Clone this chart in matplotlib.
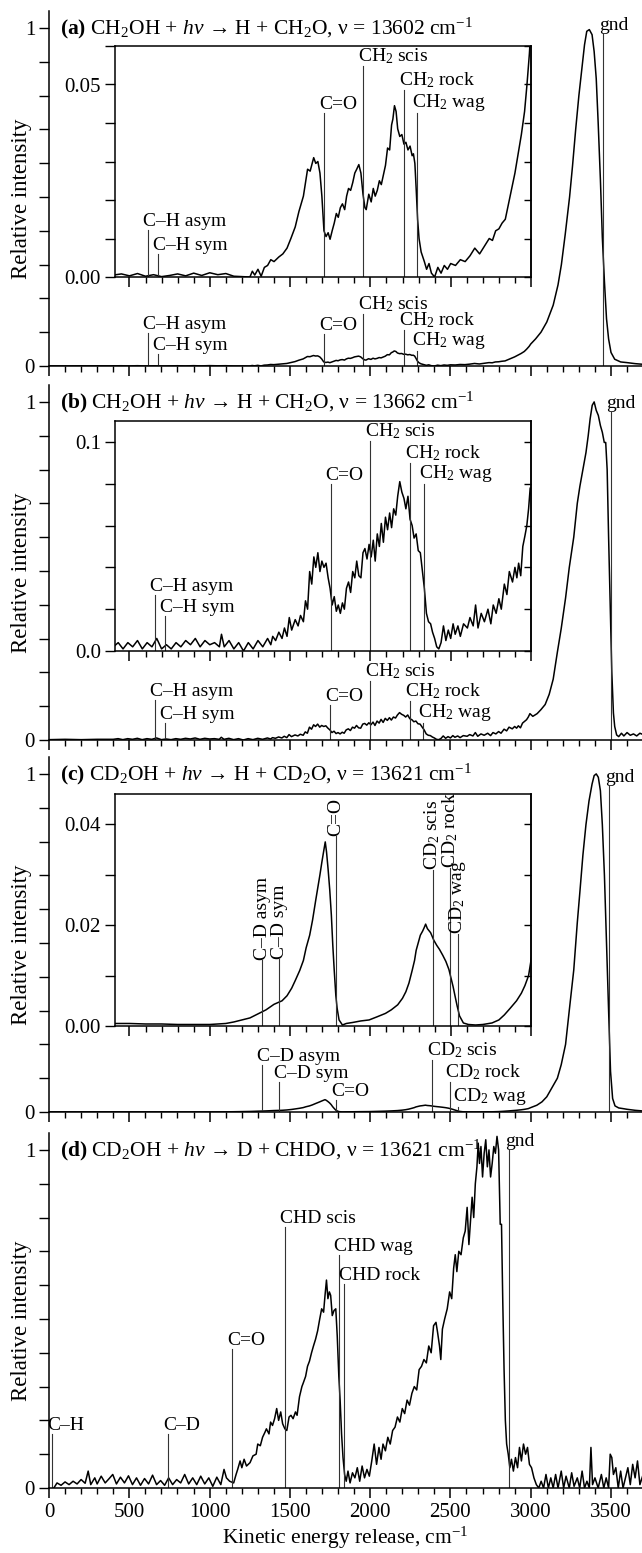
import matplotlib
matplotlib.use('Agg')
import matplotlib.pyplot as plt
from matplotlib.ticker import MultipleLocator, FixedLocator, NullFormatter

plt.rcParams['font.family'] = ['Liberation Serif', 'DejaVu Serif']
plt.rcParams['mathtext.fontset'] = 'custom'
plt.rcParams['mathtext.rm'] = 'Liberation Serif'
plt.rcParams['mathtext.it'] = 'Liberation Serif:italic'
plt.rcParams['mathtext.bf'] = 'Liberation Serif:bold'
plt.rcParams['font.size'] = 15
plt.rcParams['axes.linewidth'] = 1.1

# ---- spectra (kinetic energy release in cm-1, relative intensity) ----
ke_a = [0, 100, 200, 300, 400, 450, 500, 550, 600, 650, 700, 750, 800, 850, 900, 950,
        1000, 1050, 1100, 1150, 1200, 1250, 1265, 1280, 1300, 1320, 1340, 1360, 1380,
        1400, 1430, 1455, 1481, 1505, 1532, 1555, 1583, 1600, 1609, 1625, 1647, 1660,
        1673, 1686, 1698, 1711, 1724, 1737, 1749, 1762, 1775, 1788, 1800, 1813, 1826,
        1840, 1852, 1864, 1877, 1890, 1903, 1915, 1928, 1941, 1954, 1966, 1974, 1990,
        2005, 2018, 2030, 2043, 2056, 2068, 2081, 2094, 2107, 2120, 2132, 2140, 2150,
        2160, 2170, 2183, 2196, 2209, 2221, 2234, 2247, 2260, 2268, 2277, 2285, 2294,
        2303, 2316, 2336, 2350, 2365, 2380, 2400, 2420, 2440, 2460, 2480, 2500, 2530,
        2560, 2590, 2620, 2650, 2680, 2710, 2740, 2760, 2780, 2800, 2820, 2840, 2860,
        2880, 2900, 2920, 2940, 2960, 2975, 2990, 3000, 3030, 3064, 3100, 3140, 3170,
        3191, 3215, 3242, 3260, 3280, 3300, 3319, 3335, 3349, 3365, 3382, 3395, 3408,
        3420, 3434, 3446, 3459, 3472, 3485, 3500, 3523, 3560, 3600, 3650, 3700]
int_a = [0.0005, 0.0003, 0.0006, 0.0004, 0.0005, 0.0008, 0.0003, 0.0009, 0.0002, 0.0006,
         0.0001, 0.0004, 0.0008, 0.0003, 0.0010, 0.0004, 0.0011, 0.0006, 0.0009, 0.0002,
         0.0001, 0.0000, 0.0015, 0.0005, 0.0020, 0.0002, 0.0025, 0.0030, 0.0045, 0.0040,
         0.0052, 0.0060, 0.0075, 0.0100, 0.0130, 0.0170, 0.0210, 0.0255, 0.0280, 0.0275,
         0.0310, 0.0295, 0.0300, 0.0270, 0.0210, 0.0120, 0.0105, 0.0115, 0.0098, 0.0120,
         0.0140, 0.0165, 0.0155, 0.0180, 0.0190, 0.0175, 0.0210, 0.0230, 0.0225, 0.0245,
         0.0270, 0.0280, 0.0292, 0.0270, 0.0215, 0.0180, 0.0175, 0.0215, 0.0195, 0.0230,
         0.0210, 0.0225, 0.0250, 0.0240, 0.0265, 0.0290, 0.0335, 0.0330, 0.0395, 0.0410,
         0.0445, 0.0430, 0.0385, 0.0365, 0.0370, 0.0345, 0.0350, 0.0330, 0.0340, 0.0315,
         0.0320, 0.0295, 0.0230, 0.0150, 0.0100, 0.0065, 0.0040, 0.0020, 0.0035, 0.0010,
         0.0000, 0.0025, 0.0010, 0.0030, 0.0020, 0.0035, 0.0030, 0.0045, 0.0040, 0.0055,
         0.0075, 0.0060, 0.0080, 0.0100, 0.0095, 0.0120, 0.0125, 0.0140, 0.0150, 0.0190,
         0.0230, 0.0270, 0.0320, 0.0370, 0.0430, 0.0500, 0.0580, 0.0650, 0.080, 0.100,
         0.130, 0.180, 0.240, 0.300, 0.390, 0.500, 0.590, 0.700, 0.800, 0.880, 0.950,
         0.990, 0.995, 0.980, 0.930, 0.850, 0.720, 0.550, 0.380, 0.250, 0.140, 0.080,
         0.040, 0.020, 0.012, 0.010, 0.007, 0.005]

ke_b = [0, 100, 200, 300, 400, 430, 460, 490, 520, 550, 580, 610, 640, 670, 700, 730,
        760, 790, 820, 850, 880, 910, 940, 970, 1000, 1030, 1060, 1073, 1090, 1120, 1150,
        1180, 1210, 1240, 1270, 1300, 1330, 1360, 1380, 1392, 1410, 1430, 1450, 1465,
        1481, 1495, 1510, 1532, 1550, 1565, 1583, 1596, 1609, 1622, 1635, 1648, 1660,
        1673, 1686, 1698, 1711, 1724, 1737, 1749, 1762, 1775, 1788, 1800, 1813, 1826,
        1838, 1851, 1864, 1877, 1890, 1903, 1915, 1928, 1941, 1954, 1966, 1979, 1992,
        2005, 2018, 2030, 2043, 2056, 2068, 2081, 2094, 2107, 2120, 2132, 2145, 2158,
        2170, 2183, 2196, 2209, 2221, 2234, 2247, 2260, 2272, 2285, 2298, 2311, 2324,
        2336, 2349, 2362, 2375, 2387, 2400, 2413, 2426, 2440, 2455, 2470, 2485, 2500,
        2515, 2528, 2545, 2560, 2580, 2604, 2620, 2640, 2655, 2670, 2690, 2710, 2732,
        2750, 2765, 2783, 2800, 2815, 2834, 2850, 2865, 2885, 2900, 2912, 2923, 2936,
        2949, 2962, 2974, 2985, 2995, 3013, 3040, 3064, 3090, 3115, 3140, 3166, 3190,
        3217, 3240, 3268, 3290, 3306, 3325, 3344, 3358, 3370, 3383, 3395, 3408, 3421,
        3434, 3446, 3458, 3467, 3476, 3485, 3495, 3505, 3515, 3523, 3535, 3548, 3565,
        3580, 3600, 3620, 3640, 3660, 3680, 3700]
int_b = [0.001, 0.002, 0.001, 0.002, 0.002, 0.004, 0.001, 0.004, 0.002, 0.005, 0.001,
         0.004, 0.002, 0.006, 0.001, 0.003, 0.001, 0.004, 0.002, 0.005, 0.003, 0.006,
         0.002, 0.005, 0.003, 0.004, 0.002, 0.008, 0.002, 0.005, 0.001, 0.004, 0.000,
         0.004, 0.001, 0.005, 0.002, 0.006, 0.003, 0.007, 0.005, 0.009, 0.006, 0.011,
         0.007, 0.016, 0.010, 0.015, 0.012, 0.017, 0.014, 0.024, 0.020, 0.038, 0.032,
         0.045, 0.040, 0.047, 0.038, 0.043, 0.040, 0.042, 0.035, 0.030, 0.022, 0.026,
         0.019, 0.022, 0.018, 0.023, 0.020, 0.030, 0.033, 0.028, 0.038, 0.035, 0.043,
         0.036, 0.035, 0.047, 0.049, 0.044, 0.051, 0.045, 0.053, 0.043, 0.056, 0.050,
         0.061, 0.052, 0.064, 0.058, 0.066, 0.059, 0.068, 0.065, 0.074, 0.081, 0.076,
         0.073, 0.068, 0.074, 0.063, 0.060, 0.054, 0.056, 0.048, 0.047, 0.038, 0.030,
         0.018, 0.014, 0.013, 0.009, 0.006, 0.002, 0.001, 0.004, 0.012, 0.005, 0.010,
         0.006, 0.013, 0.008, 0.012, 0.007, 0.013, 0.011, 0.016, 0.012, 0.022, 0.011,
         0.018, 0.014, 0.020, 0.013, 0.022, 0.018, 0.025, 0.020, 0.032, 0.027, 0.038,
         0.033, 0.040, 0.035, 0.042, 0.036, 0.050, 0.055, 0.060, 0.068, 0.078, 0.070,
         0.078, 0.090, 0.105, 0.135, 0.180, 0.260, 0.330, 0.420, 0.510, 0.600, 0.700,
         0.750, 0.800, 0.850, 0.900, 0.950, 0.990, 1.000, 0.975, 0.960, 0.930, 0.910,
         0.880, 0.880, 0.800, 0.600, 0.400, 0.200, 0.080, 0.040, 0.015, 0.010, 0.020,
         0.012, 0.022, 0.014, 0.018, 0.012, 0.020, 0.016]

ke_c = [0, 100, 200, 300, 400, 500, 600, 700, 800, 900, 1000, 1100, 1150, 1200, 1250,
        1300, 1350, 1400, 1450, 1481, 1510, 1532, 1560, 1583, 1600, 1622, 1640, 1660,
        1673, 1686, 1698, 1711, 1719, 1727, 1737, 1747, 1757, 1766, 1775, 1785, 1793,
        1805, 1826, 1850, 1890, 1940, 1992, 2040, 2094, 2130, 2170, 2200, 2221, 2240,
        2260, 2275, 2285, 2298, 2311, 2325, 2335, 2344, 2355, 2375, 2395, 2413, 2430,
        2451, 2470, 2489, 2502, 2515, 2528, 2540, 2555, 2579, 2610, 2655, 2700, 2757,
        2800, 2834, 2870, 2910, 2940, 2962, 2985, 3000, 3038, 3070, 3100, 3130, 3166,
        3190, 3217, 3240, 3268, 3290, 3306, 3325, 3344, 3363, 3382, 3395, 3408, 3421,
        3434, 3446, 3459, 3472, 3485, 3497, 3510, 3525, 3548, 3575, 3600, 3650, 3700]
int_c = [0.0005, 0.0005, 0.0004, 0.0005, 0.0005, 0.0005, 0.0004, 0.0004, 0.0003, 0.0003,
         0.0003, 0.0005, 0.0008, 0.0012, 0.0016, 0.0024, 0.0032, 0.0043, 0.0050, 0.0060,
         0.0075, 0.0090, 0.0110, 0.0130, 0.0155, 0.0180, 0.0210, 0.0250, 0.0275, 0.0300,
         0.0325, 0.0350, 0.0365, 0.0345, 0.0310, 0.0270, 0.0220, 0.0160, 0.0110, 0.0060,
         0.0035, 0.0012, 0.0002, 0.0005, 0.0007, 0.0010, 0.0012, 0.0018, 0.0025, 0.0032,
         0.0042, 0.0055, 0.0068, 0.0085, 0.0110, 0.0130, 0.0150, 0.0165, 0.0180, 0.0188,
         0.0195, 0.0202, 0.0193, 0.0185, 0.0170, 0.0160, 0.0152, 0.0140, 0.0128, 0.0112,
         0.0095, 0.0078, 0.0058, 0.0040, 0.0020, 0.0006, 0.0003, 0.0002, 0.0003, 0.0006,
         0.0012, 0.0022, 0.0035, 0.0050, 0.0065, 0.0080, 0.0100, 0.0130, 0.020, 0.030,
         0.045, 0.070, 0.100, 0.140, 0.200, 0.300, 0.420, 0.560, 0.650, 0.760, 0.850,
         0.920, 0.970, 0.995, 1.000, 0.990, 0.950, 0.850, 0.700, 0.500, 0.300, 0.120,
         0.040, 0.018, 0.012, 0.010, 0.008, 0.005, 0.003]

ke_d = [30, 50, 75, 100, 125, 150, 175, 200, 225, 244, 260, 285, 300, 325, 350, 375,
        397, 420, 445, 470, 495, 520, 545, 570, 595, 620, 645, 670, 695, 720, 745, 770,
        795, 820, 845, 870, 895, 920, 945, 970, 995, 1020, 1045, 1070, 1090, 1105, 1125,
        1150, 1165, 1175, 1190, 1201, 1215, 1230, 1252, 1270, 1290, 1300, 1316, 1330,
        1345, 1354, 1370, 1380, 1392, 1405, 1418, 1430, 1443, 1455, 1469, 1481, 1495,
        1507, 1520, 1535, 1545, 1560, 1575, 1583, 1598, 1610, 1622, 1635, 1647, 1660,
        1673, 1686, 1698, 1710, 1719, 1728, 1737, 1746, 1754, 1764, 1775, 1786, 1795,
        1805, 1813, 1822, 1831, 1841, 1851, 1862, 1875, 1890, 1905, 1920, 1935, 1950,
        1965, 1980, 1995, 2010, 2025, 2040, 2055, 2068, 2080, 2095, 2110, 2125, 2140,
        2155, 2170, 2185, 2200, 2215, 2230, 2245, 2260, 2275, 2290, 2305, 2320, 2335,
        2350, 2365, 2380, 2395, 2410, 2420, 2432, 2440, 2450, 2464, 2480, 2495, 2508,
        2520, 2530, 2540, 2552, 2566, 2580, 2592, 2604, 2615, 2625, 2635, 2645, 2655,
        2665, 2673, 2681, 2690, 2700, 2710, 2720, 2730, 2740, 2750, 2760, 2770, 2780,
        2790, 2800, 2810, 2818, 2826, 2834, 2842, 2850, 2860, 2870, 2880, 2892, 2905,
        2918, 2930, 2942, 2955, 2968, 2980, 2992, 3005, 3020, 3035, 3050, 3065, 3080,
        3095, 3110, 3125, 3140, 3155, 3170, 3190, 3205, 3220, 3240, 3255, 3270, 3290,
        3305, 3320, 3335, 3350, 3365, 3375, 3385, 3400, 3420, 3440, 3455, 3470, 3485,
        3495, 3505, 3515, 3530, 3545, 3560, 3575, 3590, 3605, 3620, 3635, 3650, 3665,
        3680, 3700]
int_d = [0.000, 0.015, 0.008, 0.018, 0.010, 0.020, 0.012, 0.025, 0.014, 0.050, 0.010,
         0.030, 0.012, 0.035, 0.015, 0.028, 0.040, 0.012, 0.032, 0.015, 0.036, 0.010,
         0.030, 0.008, 0.028, 0.012, 0.038, 0.010, 0.022, 0.008, 0.030, 0.010, 0.025,
         0.015, 0.040, 0.012, 0.030, 0.010, 0.035, 0.012, 0.030, 0.005, 0.032, 0.010,
         0.055, 0.030, 0.020, 0.015, 0.040, 0.055, 0.080, 0.060, 0.085, 0.065, 0.075,
         0.095, 0.100, 0.130, 0.125, 0.150, 0.165, 0.175, 0.160, 0.195, 0.185, 0.205,
         0.235, 0.200, 0.225, 0.190, 0.175, 0.170, 0.210, 0.215, 0.205, 0.225, 0.215,
         0.270, 0.300, 0.310, 0.330, 0.360, 0.375, 0.400, 0.420, 0.440, 0.465, 0.500,
         0.530, 0.520, 0.570, 0.615, 0.560, 0.580, 0.570, 0.510, 0.525, 0.530, 0.450,
         0.330, 0.260, 0.160, 0.090, 0.040, 0.020, 0.050, 0.015, 0.045, 0.030, 0.060,
         0.020, 0.065, 0.030, 0.055, 0.035, 0.080, 0.130, 0.070, 0.120, 0.085, 0.130,
         0.110, 0.150, 0.130, 0.170, 0.180, 0.210, 0.195, 0.235, 0.220, 0.260, 0.245,
         0.280, 0.300, 0.290, 0.350, 0.360, 0.380, 0.370, 0.420, 0.400, 0.480, 0.490,
         0.460, 0.420, 0.380, 0.470, 0.500, 0.530, 0.580, 0.560, 0.650, 0.690, 0.640,
         0.700, 0.690, 0.740, 0.760, 0.830, 0.720, 0.790, 0.860, 0.800, 0.900, 0.950,
         1.020, 0.960, 1.010, 0.920, 0.990, 1.030, 0.950, 1.000, 0.920, 0.960, 1.010,
         0.990, 1.040, 1.000, 0.780, 0.780, 0.550, 0.350, 0.200, 0.130, 0.100, 0.060,
         0.085, 0.050, 0.090, 0.060, 0.120, 0.080, 0.130, 0.100, 0.120, 0.070, 0.060,
         0.030, 0.010, 0.000, 0.020, 0.000, 0.040, 0.000, 0.030, 0.000, 0.040, 0.000,
         0.050, 0.000, 0.035, 0.000, 0.045, 0.005, 0.030, 0.000, 0.050, 0.000, 0.020,
         0.000, 0.120, 0.010, 0.030, 0.000, 0.040, 0.000, 0.030, 0.000, 0.100, 0.090,
         0.040, 0.060, 0.000, 0.050, 0.000, 0.030, 0.060, 0.010, 0.070, 0.030, 0.080,
         0.010, 0.040]

# ---- vibrational level markers: position, line height in inset, in main panel ----
names_h = ['C\u2013H asym', 'C\u2013H sym', 'C=O', 'CH$_2$ scis', 'CH$_2$ rock', 'CH$_2$ wag']
pos_a = [615, 678, 1712, 1956, 2209, 2290]
inset_top_a = [0.0121, 0.0059, 0.0426, 0.0549, 0.0487, 0.0426]
main_top_a = [0.099, 0.035, 0.096, 0.155, 0.106, 0.044]

pos_b = [659, 721, 1752, 1999, 2247, 2331]
inset_top_b = [0.0266, 0.0167, 0.080, 0.1003, 0.090, 0.080]
main_top_b = [0.118, 0.051, 0.103, 0.174, 0.115, 0.049]

names_c = ['C\u2013D asym', 'C\u2013D sym', 'C=O', 'CD$_2$ scis', 'CD$_2$ rock', 'CD$_2$ wag']
pos_c = [1328, 1433, 1787, 2387, 2497, 2545]
inset_top_c = [0.0130, 0.0132, 0.0377, 0.0309, 0.0313, 0.0183]
main_top_c = [0.140, 0.089, 0.0365, 0.153, 0.089, 0.015]

names_d = ['C\u2013H', 'C\u2013D', 'C=O', 'CHD scis', 'CHD wag', 'CHD rock']
pos_d = [19, 741, 1142, 1469, 1805, 1839]
main_top_d = [0.159, 0.159, 0.41, 0.772, 0.688, 0.604]

gnd_pos = [3451, 3497, 3490, 2864]
gnd_top = [0.983, 0.97, 0.963, 1.0]

titles = ['$\\mathbf{(a)}$ CH$_2$OH + $\\mathit{h\\nu}$ \u2192 H + CH$_2$O, \u03bd = 13602 cm$^{-1}$',
          '$\\mathbf{(b)}$ CH$_2$OH + $\\mathit{h\\nu}$ \u2192 H + CH$_2$O, \u03bd = 13662 cm$^{-1}$',
          '$\\mathbf{(c)}$ CD$_2$OH + $\\mathit{h\\nu}$ \u2192 H + CD$_2$O, \u03bd = 13621 cm$^{-1}$',
          '$\\mathbf{(d)}$ CD$_2$OH + $\\mathit{h\\nu}$ \u2192 D + CHDO, \u03bd = 13621 cm$^{-1}$']

W, H = 642.0, 1553.0
XMAX = 3693
INSET_X = (410, 3000)
LINE_C = '0.2'


def px_rect(left, top, right, bottom):
    return [left / W, 1 - bottom / H, (right - left) / W, (bottom - top) / H]


def style_xaxis(ax, labels):
    ax.xaxis.set_major_locator(MultipleLocator(500))
    ax.xaxis.set_minor_locator(MultipleLocator(100))
    ax.tick_params(axis='x', which='major', direction='out', length=7, width=1.1,
                   top=False, labelbottom=labels, labelsize=15, pad=4)
    ax.tick_params(axis='x', which='minor', direction='out', length=4, width=1.0, top=False)


def main_panel(rect, ke, inten, title, markers, gnd, labels=False):
    ax = fig.add_axes(px_rect(*rect))
    ax.plot(ke, inten, color='k', lw=1.1)
    ax.set_xlim(0, XMAX)
    ax.set_ylim(0, 1.05)
    for side in ['top', 'right']:
        ax.spines[side].set_visible(False)
    style_xaxis(ax, labels)
    ax.yaxis.set_major_locator(FixedLocator([0, 1]))
    ax.yaxis.set_major_formatter(plt.FuncFormatter(lambda v, p: '%d' % round(v)))
    ax.yaxis.set_minor_locator(MultipleLocator(0.1))
    ax.tick_params(axis='y', which='both', direction='out', length=7, width=1.0,
                   right=False, labelsize=15, pad=3)
    ax.text(68, 1.0, title, ha='left', va='center', fontsize=15.5)
    names, pos, tops = markers
    for name, x, top in zip(names, pos, tops):
        ax.plot([x, x], [0, top], color=LINE_C, lw=0.8)
        ax.text(x - 30, top, name, ha='left', va='bottom', fontsize=14)
    ax.plot([gnd[0], gnd[0]], [0, gnd[1]], color=LINE_C, lw=0.8)
    ax.text(gnd[0] - 25, gnd[1], 'gnd', ha='left', va='bottom', fontsize=14)
    return ax


def inset_panel(rect, ke, inten, ylim, major, minor, fmt, markers, rotate=False):
    ax = fig.add_axes(px_rect(*rect))
    ax.plot(ke, inten, color='k', lw=1.1)
    ax.set_xlim(*INSET_X)
    ax.set_ylim(*ylim)
    ax.set_xticks([500, 1000, 1500, 2000, 2500, 3000])
    ax.xaxis.set_minor_locator(MultipleLocator(100))
    ax.tick_params(axis='x', which='major', direction='out', length=7, width=1.1,
                   top=False, labelbottom=False)
    ax.tick_params(axis='x', which='minor', direction='out', length=4, width=1.0, top=False)
    ax.yaxis.set_major_locator(MultipleLocator(major))
    ax.yaxis.set_minor_locator(MultipleLocator(minor))
    ax.yaxis.set_major_formatter(plt.FormatStrFormatter(fmt))
    ax.tick_params(axis='y', which='both', direction='out', length=7, width=1.0,
                   right=False, labelsize=15, pad=3)
    sec = ax.secondary_yaxis('right')
    sec.yaxis.set_major_locator(MultipleLocator(major))
    sec.yaxis.set_minor_locator(MultipleLocator(minor))
    sec.yaxis.set_major_formatter(NullFormatter())
    sec.tick_params(which='both', direction='in', length=5, width=1.0)
    names, pos, tops = markers
    for name, x, top in zip(names, pos, tops):
        ax.plot([x, x], [0, top], color=LINE_C, lw=0.8)
        if rotate:
            ax.text(x, top, name, ha='center', va='bottom', rotation=90, fontsize=14)
        else:
            ax.text(x - 30, top, name, ha='left', va='bottom', fontsize=14)
    return ax


fig = plt.figure(figsize=(W / 100, H / 100), dpi=100)

main_rects = [(49, 11, 642, 366), (49, 385, 642, 740), (49, 757, 642, 1112),
              (49, 1133, 642, 1488)]
inset_rects = [(115, 46, 531, 277), (115, 421, 531, 651), (115, 794, 531, 1026)]

main_panel(main_rects[0], ke_a, int_a, titles[0], (names_h, pos_a, main_top_a),
           (gnd_pos[0], gnd_top[0]))
main_panel(main_rects[1], ke_b, int_b, titles[1], (names_h, pos_b, main_top_b),
           (gnd_pos[1], gnd_top[1]))
main_panel(main_rects[2], ke_c, int_c, titles[2], (names_c, pos_c, main_top_c),
           (gnd_pos[2], gnd_top[2]))
ax_d = main_panel(main_rects[3], ke_d, int_d, titles[3], (names_d, pos_d, main_top_d),
                  (gnd_pos[3], gnd_top[3]), labels=True)
ax_d.set_xlabel('Kinetic energy release, cm$^{-1}$', fontsize=15.5, labelpad=2)

inset_panel(inset_rects[0], ke_a, int_a, (0, 0.06), 0.05, 0.01, '%.2f',
            (names_h, pos_a, inset_top_a))
inset_panel(inset_rects[1], ke_b, int_b, (0, 0.11), 0.1, 0.02, '%.1f',
            (names_h, pos_b, inset_top_b))
inset_panel(inset_rects[2], ke_c, int_c, (0, 0.046), 0.02, 0.01, '%.2f',
            (names_c, pos_c, inset_top_c), rotate=True)

# y label, one per panel, a little below the middle as in the original
for rect in main_rects:
    yc = rect[3] - 0.47 * (rect[3] - rect[1])
    fig.text(22 / W, 1 - yc / H, 'Relative intensity', rotation=90,
             ha='center', va='center', fontsize=16.5)

fig.savefig('out.png', dpi=100)
